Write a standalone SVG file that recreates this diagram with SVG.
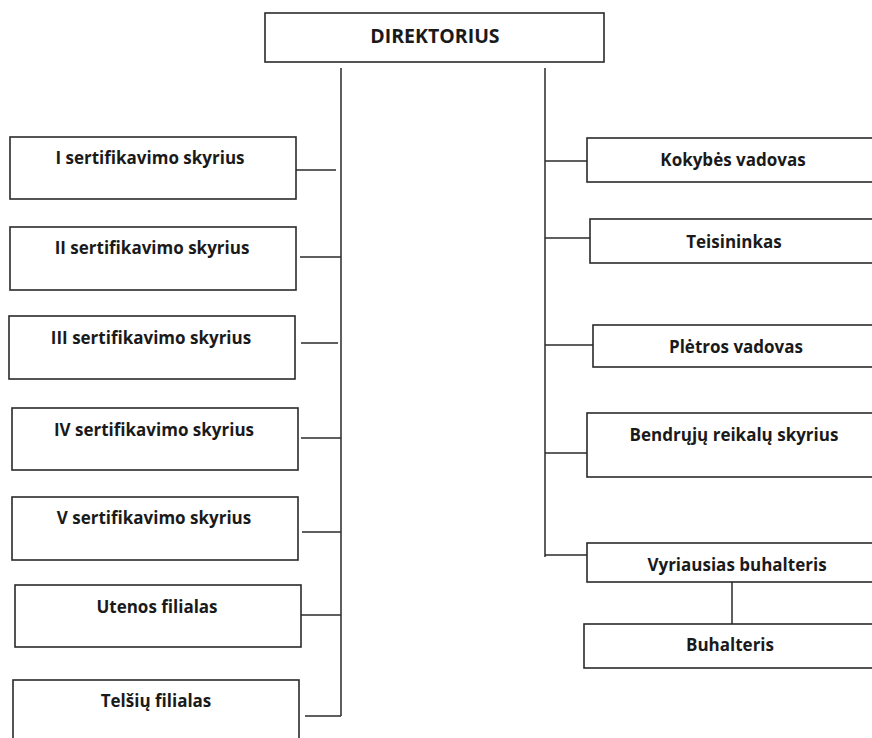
<svg xmlns="http://www.w3.org/2000/svg" width="872" height="738" viewBox="0 0 872 738">
<style>
rect{fill:#fff;stroke:#2a2a2a;stroke-width:1.6}
text{font-family:"Open Sans","Liberation Sans",sans-serif;font-weight:bold;font-size:17px;fill:#1a1a1a;text-anchor:middle}
#connectors line{stroke:#2a2a2a;stroke-width:1.5}
</style>
<rect x="0" y="0" width="872" height="738" style="fill:#fff;stroke:none"/>
<g id="connectors">
<line x1="341" y1="68" x2="341" y2="716"/>
<line x1="545" y1="68" x2="545" y2="557"/>
<line x1="296" y1="170" x2="336" y2="170"/>
<line x1="300" y1="257" x2="341" y2="257"/>
<line x1="301" y1="343" x2="338" y2="343"/>
<line x1="301" y1="438" x2="341" y2="438"/>
<line x1="302" y1="532" x2="341" y2="532"/>
<line x1="300" y1="615" x2="341" y2="615"/>
<line x1="305" y1="716" x2="341" y2="716"/>
<line x1="545" y1="161" x2="587" y2="161"/>
<line x1="545" y1="238" x2="590" y2="238"/>
<line x1="545" y1="345" x2="593" y2="345"/>
<line x1="545" y1="453" x2="587" y2="453"/>
<line x1="545" y1="555" x2="587" y2="555"/>
<line x1="732" y1="582" x2="732" y2="624"/>
</g>
<g id="direktorius"><rect x="265" y="13" width="339" height="49"/><text x="435" y="43" style="font-size:19.5px">DIREKTORIUS</text></g>
<g id="s1"><rect x="10" y="137" width="286" height="62"/><text x="150" y="164">I sertifikavimo skyrius</text></g>
<g id="s2"><rect x="10" y="227" width="286" height="63"/><text x="152" y="254">II sertifikavimo skyrius</text></g>
<g id="s3"><rect x="9" y="316" width="286" height="63"/><text x="151" y="344">III sertifikavimo skyrius</text></g>
<g id="s4"><rect x="12" y="408" width="286" height="62"/><text x="154" y="436">IV sertifikavimo skyrius</text></g>
<g id="s5"><rect x="12" y="497" width="286" height="63"/><text x="154" y="524">V sertifikavimo skyrius</text></g>
<g id="utena"><rect x="15" y="585" width="286" height="62"/><text x="157" y="613">Utenos filialas</text></g>
<g id="telsiai"><rect x="13" y="680" width="286" height="70"/><text x="156" y="707">Telšių filialas</text></g>
<g id="kokybe"><rect x="587" y="138" width="300" height="44"/><text x="733" y="166">Kokybės vadovas</text></g>
<g id="teisininkas"><rect x="590" y="219" width="300" height="44"/><text x="734" y="248">Teisininkas</text></g>
<g id="pletra"><rect x="593" y="325" width="300" height="42"/><text x="736" y="353">Plėtros vadovas</text></g>
<g id="bendruju"><rect x="587" y="413" width="300" height="64"/><text x="734" y="441">Bendrųjų reikalų skyrius</text></g>
<g id="vyr"><rect x="587" y="543" width="300" height="39"/><text x="737" y="571">Vyriausias buhalteris</text></g>
<g id="buh"><rect x="584" y="624" width="300" height="44"/><text x="730" y="651">Buhalteris</text></g>
</svg>
